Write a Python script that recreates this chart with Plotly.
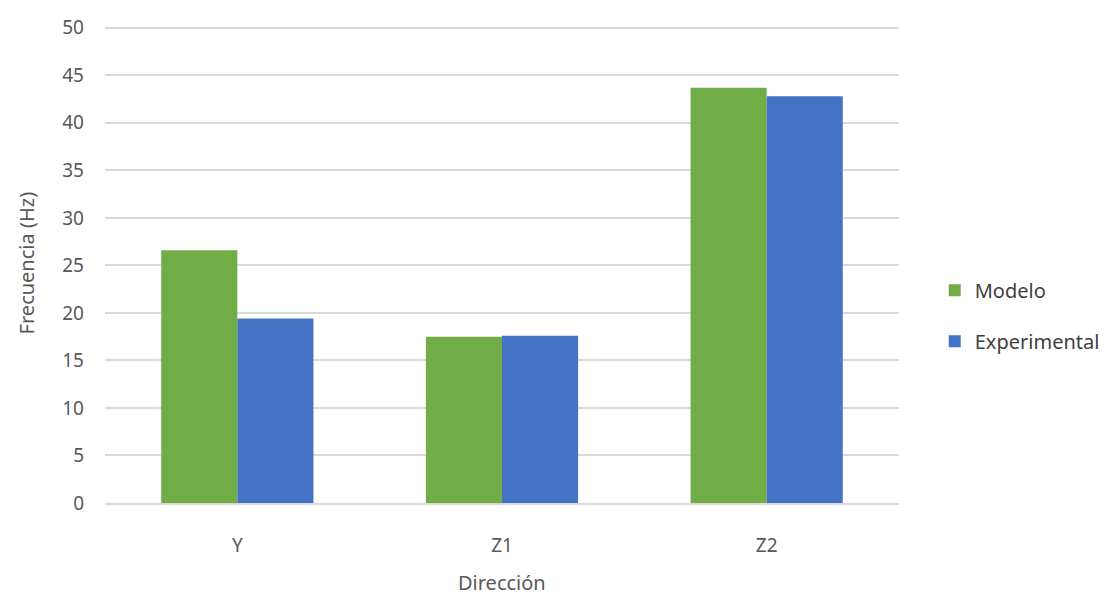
import plotly.graph_objects as go

# Frequencies per direction
direcciones = ["Y", "Z1", "Z2"]
modelo = [26.6, 17.5, 43.7]
experimental = [19.4, 17.6, 42.8]
y_ticks = [0, 5, 10, 15, 20, 25, 30, 35, 40, 45, 50]

FONT = "Noto Sans"
GRAY = "#595959"

fig = go.Figure()
fig.add_trace(go.Bar(x=direcciones, y=modelo, name="Modelo", legendgroup="m",
                     marker=dict(color="#70AD47", line=dict(width=0))))
fig.add_trace(go.Bar(x=direcciones, y=experimental, name="Experimental",
                     legendgroup="e",
                     marker=dict(color="#4472C4", line=dict(width=0))))

fig.update_layout(
    width=1120, height=595,
    margin=dict(l=105, r=221, t=22.5, b=92),
    paper_bgcolor="white", plot_bgcolor="white",
    barmode="group", bargap=0.425, bargroupgap=0,
    font=dict(family=FONT, color=GRAY, size=19),
    legend=dict(x=1.045, y=0.39, xanchor="left", yanchor="middle",
                font=dict(family=FONT, size=20, color="#404040"),
                traceorder="grouped", tracegroupgap=22, itemwidth=30),
    showlegend=True,
    annotations=[
        dict(text="Dirección", xref="paper", yref="paper",
             x=0.5, y=-0.165, xanchor="center", yanchor="middle",
             showarrow=False, font=dict(size=20, color=GRAY)),
        dict(text="Frecuencia (Hz)", xref="paper", yref="paper",
             x=-0.099, y=0.5, xanchor="center", yanchor="middle",
             textangle=-90, showarrow=False, font=dict(size=20, color=GRAY)),
    ],
)
fig.update_xaxes(
    automargin=False,
    showgrid=False, showline=True, linecolor="#d9d9d9", linewidth=1.5,
    ticks="", tickfont=dict(size=19, color=GRAY), ticklabelstandoff=24,
)
fig.update_yaxes(
    automargin=False,
    range=[0, 50.5], tickvals=y_ticks, showgrid=True, gridcolor="#d9d9d9",
    gridwidth=1.5, zeroline=False, showline=False, ticks="",
    tickfont=dict(size=19, color=GRAY), ticklabelstandoff=20,
)

fig.write_html("out.html")
